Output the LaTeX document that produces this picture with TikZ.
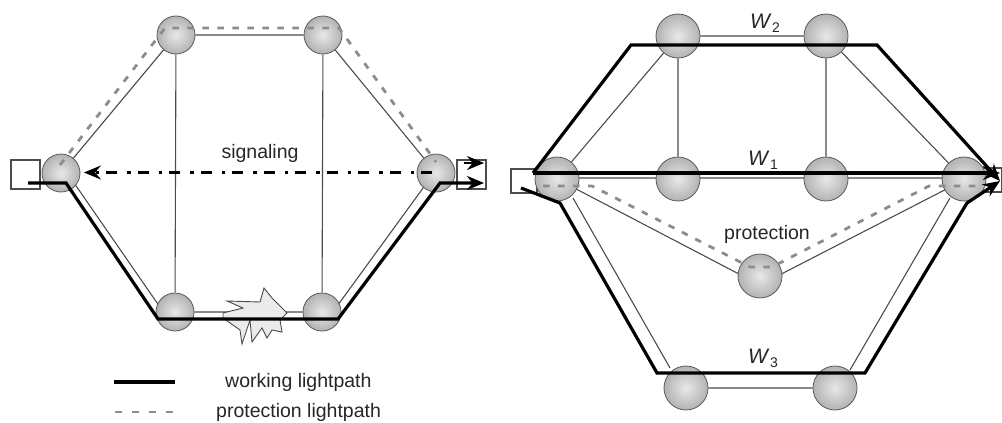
\documentclass[tikz,border=0pt]{standalone}
\usepackage{fontspec}
\setmainfont{Liberation Sans}
\usetikzlibrary{arrows.meta,backgrounds}
\definecolor{thinc}{gray}{0.3}
\definecolor{protc}{gray}{0.55}
\tikzset{
  ballA/.style={circle,inner sep=0pt,minimum size=38pt,draw=gray!70!black,line width=0.8pt,inner color=gray!18,outer color=gray!60},
  ballB/.style={ballA,minimum size=44pt},
  thinlink/.style={draw=thinc,line width=1.1pt},
  work/.style={draw=black,line width=3.2pt,line join=miter},
  prot/.style={draw=protc,line width=2.8pt,dash pattern=on 6.5pt off 8.5pt},
  sig/.style={draw=black,line width=2.6pt,dash pattern=on 11pt off 7pt on 3.5pt off 10pt},
  endbox/.style={draw=thinc,line width=1.2pt,fill=white,inner sep=0pt},
  tip/.style={-{Stealth[length=17pt,width=14pt]}},
  lab/.style={inner sep=0pt,text=black!85},
  big/.style={lab,font=\fontsize{19.5}{22}\selectfont}
}
\newcommand{\wlab}[1]{\fontsize{21}{24}\selectfont\textit{W}\kern0.5pt\raisebox{-4pt}{\fontsize{14}{16}\selectfont #1}}
\begin{document}
\begin{tikzpicture}[x=1pt,y=-1pt]
\useasboundingbox (0,0) rectangle (1002,423);
% left network
\node[endbox,minimum width=29pt,minimum height=29pt] (bl) at (25.5,174.5) {};
\node[endbox,minimum width=29pt,minimum height=29pt] (br) at (471.5,174.5) {};
\node[ballA] (a1) at (176,35) {};
\node[ballA] (a2) at (323,35) {};
\node[ballA] (a3) at (61,173) {};
\node[ballA] (a4) at (436,173) {};
\node[ballA] (a5) at (175,312) {};
\node[ballA] (a6) at (322,312) {};
\draw[thinlink] (a1)--(a2) (a1)--(a3) (a2)--(a4) (a1)--(a5) (a2)--(a6) (a5)--(a6);
\coordinate (t1a) at (72,180);
\coordinate (t1b) at (162,310);
\coordinate (t2a) at (335,309);
\coordinate (t2b) at (426,184);
\begin{pgfonlayer}{background}
\draw[thinlink] (t1a)--(t1b) (t2a)--(t2b);
\end{pgfonlayer}
% failure
\draw[draw=gray!60!black,line width=0.9pt,fill=gray!16,line join=miter]
 (227,301)--(243,308)--(223,313)--(223,318)--(240,330)--(242,344)--(250,320)--(252,342)--(262,328)--(267,338)--(272,330)--(282,332)--(280,320)--(287,313)--(272,298)--(264,288)--(260,302)--cycle;
% left paths
\coordinate (p1) at (60,165);
\coordinate (p2) at (165,28);
\coordinate (p3) at (339,28);
\coordinate (p4) at (436,162);
\draw[prot] (p1)--(p2)--(p3)--(p4);
\coordinate (w0) at (28,183);
\coordinate (w1) at (66,183);
\coordinate (w2) at (158,319);
\coordinate (w3) at (338,319);
\coordinate (w4) at (440,183);
\coordinate (w5) at (484,183);
\draw[work,tip] (w0)--(w1)--(w2)--(w3)--(w4)--(w5);
\coordinate (u0) at (464,163);
\coordinate (u1) at (484,163);
\draw[draw=black,line width=2.4pt,tip] (u0)--(u1);
\coordinate (s0) at (432,172.5);
\coordinate (s1) at (84,172.5);
\draw[sig,-{Stealth[length=17pt,width=14pt,inset=6pt]}] (s0)--(s1);
\node[big] (signal) at (260,153) {signaling};
% legend
\coordinate (l1) at (114,382);
\coordinate (l2) at (175,382);
\coordinate (l3) at (115,412);
\coordinate (l4) at (175,412);
\draw[work] (l1)--(l2);
\draw[prot,dash pattern=on 7pt off 10pt] (l3)--(l4);
\node[big,anchor=west] (t1) at (225,382) {working lightpath};
\node[big,anchor=west] (t2) at (216,412) {protection lightpath};
% right network
\node[endbox,minimum width=26pt,minimum height=24pt] (cl) at (524,181) {};
\node[endbox,minimum width=28pt,minimum height=24pt] (cr) at (988,180) {};
\node[ballB] (b1) at (678,36) {};
\node[ballB] (b2) at (826,36) {};
\node[ballB] (b3) at (557,179) {};
\node[ballB] (b4) at (678,179) {};
\node[ballB] (b5) at (826,179) {};
\node[ballB] (b6) at (964,179) {};
\node[ballB] (b7) at (760,276) {};
\node[ballB] (b8) at (686,388) {};
\node[ballB] (b9) at (835,388) {};
\draw[thinlink] (b1)--(b2) (b1)--(b3) (b2)--(b6) (b1)--(b4) (b2)--(b5) (b8)--(b9);
\coordinate (r1) at (557,179);
\coordinate (r2) at (760,285);
\coordinate (r3) at (964,180);
\coordinate (r4) at (573,198);
\coordinate (r5) at (670,368);
\coordinate (r6) at (950,198);
\coordinate (r7) at (850,370);
\coordinate (r8) at (557,178);
\coordinate (r9) at (964,178);
\begin{pgfonlayer}{background}
\draw[thinlink] (r1)--(r2)--(r3) (r4)--(r5) (r6)--(r7) (r8)--(r9);
\end{pgfonlayer}
\coordinate (q0) at (543,186);
\coordinate (q1) at (592,186);
\coordinate (q2) at (750,267);
\coordinate (q3) at (772,267);
\coordinate (q4) at (929,186);
\coordinate (q5) at (985,186);
\draw[prot] (q0)--(q1)--(q2)--(q3)--(q4)--(q5);
\coordinate (x0) at (533,173);
\coordinate (x1) at (631,45);
\coordinate (x2) at (877,45);
\coordinate (x3) at (1000,181);
\draw[work,tip] (x0)--(x1)--(x2)--(x3);
\coordinate (y0) at (533,173);
\coordinate (y1) at (1000,173);
\draw[work,tip] (y0)--(y1);
\coordinate (z0) at (521,188);
\coordinate (z1) at (560,203);
\coordinate (z2) at (657,373);
\coordinate (z3) at (865,373);
\coordinate (z4) at (967,203);
\coordinate (z5) at (1000,181);
\draw[work,tip] (z0)--(z1)--(z2)--(z3)--(z4)--(z5);
\node[lab] (w2lab) at (765,23) {\wlab{2}};
\node[lab] (w1lab) at (763,160) {\wlab{1}};
\node[lab] (w3lab) at (763,358) {\wlab{3}};
\node[big] (protl) at (767,234) {protection};
\end{tikzpicture}
\end{document}
